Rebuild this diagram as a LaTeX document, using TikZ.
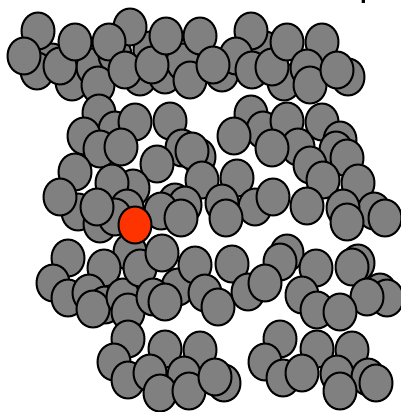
\documentclass[tikz,border=0pt]{standalone}
\usepackage{fontspec}
\setmainfont{Liberation Sans}
\definecolor{ballgray}{HTML}{808080}
\definecolor{ballred}{HTML}{FF3300}
\tikzset{
  ball/.style={draw=black, line width=2pt, fill=ballgray},
  hotball/.style={ball, fill=ballred}
}
\begin{document}
\begin{tikzpicture}[x=1pt,y=-1pt]
  \useasboundingbox (0,0) rectangle (401,412);
  % top band
  \foreach \x/\y in {52/62,37/71,72/82,93/67,115/55,140/77,165/75,150/50,183/62,222/73,265/50,284/82,348/77,
                     38/31,24/56,60/66,75/42,130/27,109/42,98/85,125/70,152/65,166/36,190/80,200/36,
                     251/31,236/56,213/65,252/70,272/67,287/42,322/42,307/68,310/85,337/70}
    \draw[ball] (\x,\y) ellipse [x radius=16.5pt, y radius=18.5pt];
  % second band, left
  \foreach \x/\y in {99/113,115/130,84/136,135/122,170/121,100/149,121/147,182/148,199/157,192/151,157/164,
                     202/180,75/172,133/188,112/183,78/212,100/224,60/197,127/208,115/217,97/207,
                     175/202,185/205,161/211,181/218,130/252}
    \draw[ball] (\x,\y) ellipse [x radius=16.5pt, y radius=18.5pt];
  \draw[hotball] (135,225) ellipse [x radius=16.5pt, y radius=18.5pt];
  % second band, right
  \foreach \x/\y in {251/114,263/130,234/136,287/121,322/122,340/140,298/147,272/148,336/150,347/158,
                     310/165,237/178,323/180,358/183,255/207,273/197,222/203,226/218,307/206,
                     374/211,385/218,343/208,347/222}
    \draw[ball] (\x,\y) ellipse [x radius=16.5pt, y radius=18.5pt];
  % third band
  \foreach \x/\y in {68/258,104/268,53/283,68/298,89/293,105/305,93/309,123/297,128/312,140/268,162/253,
                     178/287,153/297,165/302,195/265,232/264,205/293,218/307,248/292,
                     287/253,280/262,265/283,358/263,316/268,352/267,302/295,317/310,
                     380/292,387/298,367/297,340/312}
    \draw[ball] (\x,\y) ellipse [x radius=16.5pt, y radius=18.5pt];
  % bottom band
  \foreach \x/\y in {128/339,114/362,165/349,128/380,150/373,200/350,184/375,160/393,189/391,224/383,215/377,
                     280/339,265/362,317/349,352/350,283/378,302/373,337/374,368/377,376/383,340/391}
    \draw[ball] (\x,\y) ellipse [x radius=16.5pt, y radius=18.5pt];
  \node (lbl) [anchor=base west, inner sep=0pt, font=\bfseries\fontsize{24}{24}\selectfont] at (360,-1) {p};
\end{tikzpicture}
\end{document}
